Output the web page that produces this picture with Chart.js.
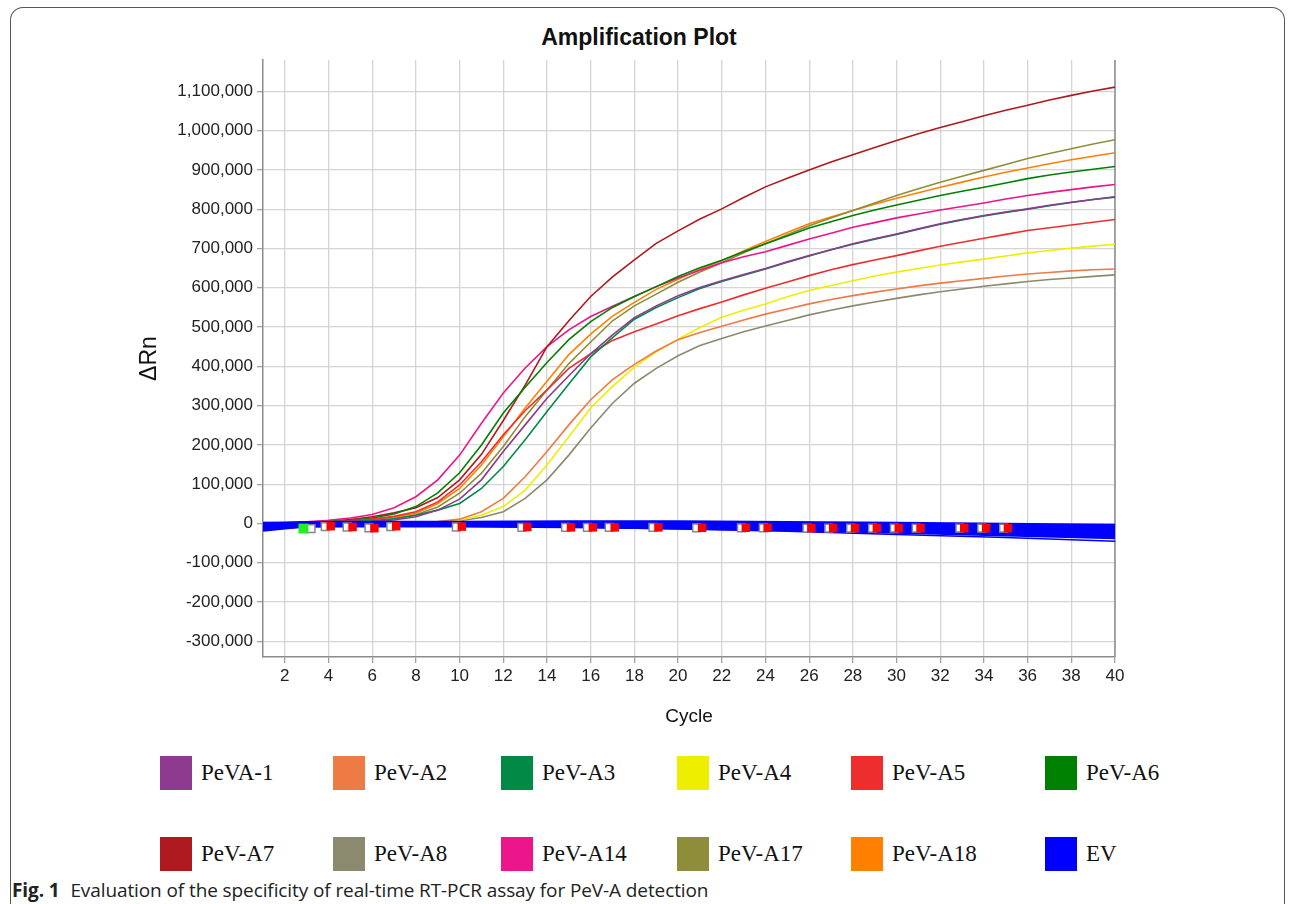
<!DOCTYPE html>
<html>
<head>
<meta charset="utf-8">
<title>Amplification Plot</title>
<script src="https://cdn.jsdelivr.net/npm/chart.js@4.4.1/dist/chart.umd.min.js"></script>
<style>
  body { margin:0; background:#fff; width:1292px; height:904px; overflow:hidden; position:relative; }
  #frame { position:absolute; left:10px; top:7px; width:1273px; height:920px; border:1.5px solid #555; border-bottom:none; border-radius:13px 13px 0 0; }
  #title { position:absolute; left:0; width:1278px; top:24px; line-height:26px; text-align:center; font-family:"Liberation Sans", Arial, sans-serif; font-size:23px; font-weight:bold; color:#111; }
  #wrap { position:absolute; left:0; top:0; width:1292px; height:740px; }
  #legend { position:absolute; left:160px; top:756px; display:grid; grid-template-columns:173px 168px 176px 174px 194px 130px; row-gap:47px; }
  .item { display:flex; align-items:center; font-family:"Liberation Serif", "Times New Roman", serif; font-size:23px; color:#111; height:34px; }
  .box { width:32px; height:34px; margin-right:9px; flex:none; }
  #caption { position:absolute; left:12px; top:878px; line-height:24px; font-family:"Open Sans", "Noto Sans", sans-serif; font-size:19px; letter-spacing:-0.1px; color:#222; }
  #caption b { font-weight:bold; margin-right:6px; }
</style>
</head>
<body>
<div id="frame"></div>
<div id="title">Amplification Plot</div>
<div id="wrap"><canvas id="graficoAmp"></canvas></div>
<div id="legend"></div>
<div id="caption"><b>Fig. 1</b> Evaluation of the specificity of real-time RT-PCR assay for PeV-A detection</div>
<script>
// Ciclos 1..40
const cycles = [1,2,3,4,5,6,7,8,9,10,11,12,13,14,15,16,17,18,19,20,21,22,23,24,25,26,27,28,29,30,31,32,33,34,35,36,37,38,39,40];
// valores dos ticks do eixo Y
const yTicks = [-300000,-200000,-100000,0,100000,200000,300000,400000,500000,600000,700000,800000,900000,1000000,1100000];

// Delta Rn de cada amostra
const peva1 = [0,0,1000,2000,3000,5000,9000,17000,34000,62000,111000,183000,251000,319000,376000,432000,480000,524000,554000,580000,601000,618000,634000,649000,666000,682000,697000,712000,725000,737000,750000,763000,774000,784000,793000,801000,810000,818000,825000,832000];
const pevA2 = [1000,0,0,0,1000,1000,2000,3000,5000,11000,30000,64000,119000,183000,251000,315000,366000,405000,439000,468000,486000,502000,518000,533000,546000,559000,570000,580000,589000,597000,605000,612000,618000,624000,630000,635000,639000,643000,646000,648000];
const pevA3 = [0,0,1000,2000,4000,7000,12000,21000,34000,51000,89000,145000,213000,285000,355000,424000,473000,520000,550000,575000,598000,616000,632000,648000,665000,681000,697000,711000,724000,736000,749000,762000,773000,783000,792000,800000,809000,817000,825000,831000];
const pevA4 = [3000,1000,0,0,0,1000,1000,2000,4000,8000,21000,43000,85000,149000,221000,294000,349000,398000,437000,469000,499000,525000,543000,559000,577000,593000,606000,618000,630000,640000,649000,658000,666000,673000,681000,689000,695000,701000,706000,711000];
const pevA5 = [0,1000,2000,4000,7000,11000,18000,30000,55000,98000,157000,226000,287000,340000,395000,432000,466000,488000,508000,529000,547000,564000,582000,599000,615000,631000,646000,659000,671000,682000,694000,706000,716000,726000,736000,746000,753000,760000,767000,774000];
const pevA6 = [0,1000,2000,4000,8000,14000,24000,43000,78000,129000,200000,281000,347000,410000,468000,514000,550000,578000,603000,629000,651000,670000,692000,712000,732000,752000,768000,784000,798000,811000,823000,835000,846000,856000,867000,878000,887000,895000,902000,909000];
const pevA7 = [0,1000,2000,5000,10000,17000,27000,40000,66000,111000,176000,262000,352000,450000,516000,578000,628000,671000,713000,745000,775000,801000,830000,857000,879000,900000,920000,939000,957000,975000,992000,1008000,1023000,1038000,1052000,1065000,1078000,1090000,1101000,1111000];
const pevA8 = [-2000,-1000,0,0,0,0,1000,2000,3000,7000,15000,30000,64000,111000,174000,243000,306000,357000,395000,427000,453000,471000,488000,503000,517000,531000,543000,554000,564000,573000,582000,590000,597000,604000,610000,616000,621000,625000,629000,633000];
const pevA14 = [1000,2000,4000,8000,14000,23000,40000,68000,111000,174000,255000,332000,396000,450000,493000,527000,553000,578000,603000,625000,645000,664000,679000,692000,708000,724000,739000,754000,766000,778000,788000,798000,807000,816000,826000,835000,843000,850000,857000,863000];
const pevA17 = [0,0,1000,2000,4000,7000,12000,22000,42000,77000,128000,196000,272000,340000,407000,462000,516000,554000,584000,614000,640000,664000,689000,712000,735000,758000,778000,797000,816000,835000,852000,869000,884000,899000,914000,929000,942000,954000,966000,977000];
const pevA18 = [2000,2000,2000,3000,6000,10000,16000,26000,51000,89000,149000,221000,294000,362000,430000,482000,528000,563000,596000,622000,647000,669000,694000,718000,741000,763000,780000,797000,813000,828000,842000,856000,869000,882000,894000,905000,916000,926000,935000,944000];

// EV: varias curvas planas perto de zero
const evCycles = [1,2,3,5,10,15,20,25,30,35,40];
const ev1 = [-1000,0,1000,2000,2000,3000,3000,1000,-1000,-3000,-6000];
const ev2 = [-4000,-2000,-1000,0,0,0,0,-2000,-5000,-8000,-12000];
const ev3 = [-8000,-5000,-3000,-2000,-2000,-3000,-4000,-7000,-10000,-14000,-18000];
const ev4 = [-11000,-7000,-4000,-3000,-3000,-5000,-7000,-10000,-14000,-19000,-24000];
const ev5 = [-14000,-9000,-5000,-4000,-4000,-6000,-9000,-13000,-18000,-24000,-30000];
const ev6 = [-16000,-10000,-5000,-5000,-5000,-7000,-10000,-15000,-21000,-28000,-35000];
const ev7 = [-17000,-11000,-6000,-6000,-6000,-9000,-14000,-20000,-28000,-36000,-45000];

// marcadores (quadrados) sobre a linha de base
const redMarkCycles = [4.1,5.1,6.1,7.1,10.1,13.1,15.1,16.1,17.1,19.1,21.1,23.1,24.1,26.1,27.1,28.1,29.1,30.1,31.1,33.1,34.1,35.1];
const redMarkValues = [-7000,-9000,-12000,-7000,-8000,-9000,-10000,-10000,-10000,-10000,-11000,-11000,-11000,-12000,-12000,-12000,-12000,-12000,-12000,-12000,-12000,-12000];
const grayMarkCycles = [3.2,3.85,4.85,5.85,6.85,9.85,12.85,14.85,15.85,16.85,18.85,20.85,22.9,23.9,25.9,26.9,27.9,28.9,29.9,30.9,32.9,33.9,34.9];
const grayMarkValues = [-13000,-8000,-9000,-11000,-8000,-9000,-10000,-10000,-10000,-10000,-10000,-11000,-11000,-11000,-12000,-12000,-12000,-12000,-12000,-12000,-12000,-12000,-12000];
const greenMarkCycles = [2.85];
const greenMarkValues = [-13000];

const labels = ['PeVA-1','PeV-A2','PeV-A3','PeV-A4','PeV-A5','PeV-A6','PeV-A7','PeV-A8','PeV-A14','PeV-A17','PeV-A18','EV'];
const colors = ['#8E3A8F','#EE7A44','#008A45','#EEEE00','#EE2E2E','#008000','#AE1920','#8B8A6E','#EC1589','#8E8E3A','#FF8000','#0000FF'];
const series = [peva1,pevA2,pevA3,pevA4,pevA5,pevA6,pevA7,pevA8,pevA14,pevA17,pevA18];
const evSeries = [ev1,ev2,ev3,ev4,ev5,ev6,ev7];

function pts(xs, ys) { return xs.map((x, i) => ({x: x, y: ys[i]})); }

const datasets = [];
datasets.push({ label:'mk-green', type:'scatter', data:pts(greenMarkCycles, greenMarkValues), pointStyle:'rect', pointRadius:7, backgroundColor:'#22EE22', borderColor:'#22EE22', borderWidth:0 });
datasets.push({ label:'mk-red', type:'scatter', data:pts(redMarkCycles, redMarkValues), pointStyle:'rect', pointRadius:6, backgroundColor:'#FF0000', borderColor:'#FF0000', borderWidth:0 });
datasets.push({ label:'mk-gray', type:'scatter', data:pts(grayMarkCycles, grayMarkValues), pointStyle:'rect', pointRadius:5.5, backgroundColor:'#ffffff', borderColor:'#888888', borderWidth:1.5 });
evSeries.forEach((ev, i) => {
  datasets.push({ label:'EV', data:pts(evCycles, ev), borderColor:'#0000FF', borderWidth: i === 6 ? 1.5 : 4, pointRadius:0, tension:0, fill:false });
});
series.forEach((s, i) => {
  datasets.push({ label:labels[i], data:pts(cycles, s), borderColor:colors[i], borderWidth:1.6, pointRadius:0, tension:0, fill:false });
});

// borda direita da area do grafico
const bordaDireita = {
  id:'bordaDireita',
  beforeDatasetsDraw(chart) {
    const a = chart.chartArea, ctx = chart.ctx;
    ctx.save();
    ctx.strokeStyle = '#8c8c8c';
    ctx.lineWidth = 1.5;
    ctx.beginPath();
    ctx.moveTo(a.right, a.top);
    ctx.lineTo(a.right, a.bottom);
    ctx.stroke();
    ctx.restore();
  }
};

const fonte = '"Liberation Sans", Arial, sans-serif';
const ctxAmp = document.getElementById('graficoAmp').getContext('2d');
const graficoAmp = new Chart(ctxAmp, {
  type:'line',
  data:{ datasets: datasets },
  options:{
    responsive:true,
    maintainAspectRatio:false,
    animation:false,
    layout:{ padding:{ left:130, right:177, top:60, bottom:0 } },
    plugins:{
      legend:{ display:false },
      tooltip:{ enabled:false },
      title:{ display:false }
    },
    scales:{
      x:{
        type:'linear', min:1, max:40,
        ticks:{ stepSize:2, includeBounds:false, autoSkip:false, maxRotation:0, padding:3, color:'#222', font:{ family:fonte, size:17 } },
        grid:{ color:'#d4d4d4', lineWidth:1.3, tickLength:6, tickColor:'#a0a0a0' },
        border:{ color:'#8c8c8c', width:1.5 },
        title:{ display:true, text:'Cycle', color:'#111', font:{ family:fonte, size:19 }, padding:{ top:0, bottom:12 } },
        afterFit(s) { s.height = 83; }
      },
      y:{
        min:-340000, max:1180000,
        afterBuildTicks(s) { s.ticks = yTicks.map(v => ({ value:v })); },
        ticks:{ autoSkip:false, padding:4, color:'#222', font:{ family:fonte, size:17 },
          callback:v => v.toLocaleString('en-US') },
        grid:{ color:'#d4d4d4', lineWidth:1.3, tickLength:6, tickColor:'#a0a0a0' },
        border:{ color:'#8c8c8c', width:1.5 },
        title:{ display:true, text:'ΔRn', color:'#111', font:{ family:fonte, size:23 }, padding:{ top:6, bottom:0 } },
        afterFit(s) { s.width = 133; }
      }
    }
  },
  plugins:[bordaDireita]
});

// legenda em HTML
const leg = document.getElementById('legend');
labels.forEach((l, i) => {
  const it = document.createElement('div');
  it.className = 'item';
  it.innerHTML = '<span class="box" style="background:' + colors[i] + '"></span>' + l;
  leg.appendChild(it);
});
</script>
</body>
</html>
